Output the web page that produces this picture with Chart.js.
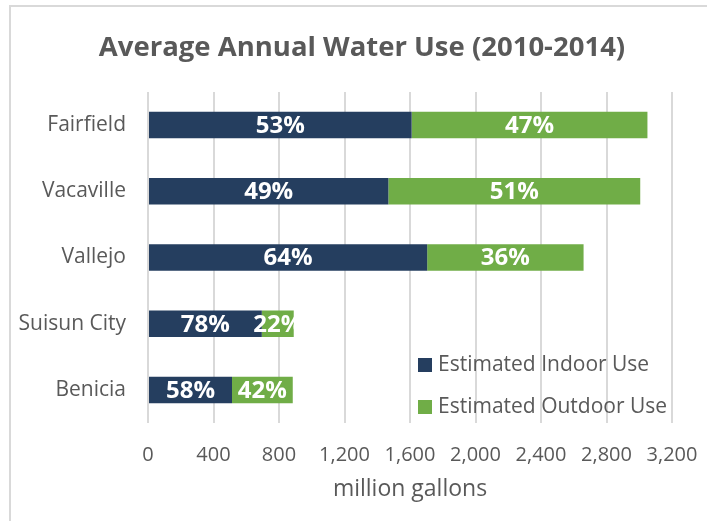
<!DOCTYPE html>
<html>
<head>
<meta charset="utf-8">
<script src="https://cdn.jsdelivr.net/npm/chart.js@4"></script>
<style>
  html, body { margin: 0; padding: 0; background: #fff; }
  #wrap { position: relative; width: 707px; height: 521px; }
</style>
</head>
<body>
<div id="wrap"><canvas id="waterChart"></canvas></div>
<script>
const cities = ['Fairfield', 'Vacaville', 'Vallejo', 'Suisun City', 'Benicia'];
const indoorUse = [1610, 1468, 1705, 695, 513];
const outdoorUse = [1440, 1538, 955, 195, 371];
const xTicks = [0, 400, 800, 1200, 1600, 2000, 2400, 2800, 3200];
const titleText = 'Average Annual Water Use (2010-2014)';

const navy = '#253E5F';
const green = '#70AD47';
const gray = '#595959';

// white percentage labels in the middle of each segment
const pctLabels = {
  id: 'pctLabels',
  afterDatasetsDraw(chart) {
    const ctx = chart.ctx;
    ctx.save();
    ctx.fillStyle = '#fff';
    ctx.font = 'bold 24px "Open Sans"';
    ctx.textAlign = 'center';
    ctx.textBaseline = 'middle';
    chart.data.datasets.forEach((ds, i) => {
      chart.getDatasetMeta(i).data.forEach((bar, j) => {
        const total = indoorUse[j] + outdoorUse[j];
        const pct = Math.round(ds.data[j] / total * 100) + '%';
        ctx.fillText(pct, (bar.x + bar.base) / 2, bar.y + 1);
      });
    });
    ctx.restore();
  }
};

// legend sitting inside the plot, lower right
const innerLegend = {
  id: 'innerLegend',
  afterDraw(chart) {
    const ctx = chart.ctx;
    ctx.save();
    ctx.font = '21px "Open Sans"';
    ctx.textBaseline = 'middle';
    const rows = [365, 407];
    chart.data.datasets.forEach((ds, i) => {
      ctx.fillStyle = ds.backgroundColor;
      ctx.fillRect(418, rows[i] - 7, 14, 14);
      ctx.fillStyle = gray;
      ctx.fillText(ds.label, 438, rows[i]);
    });
    ctx.restore();
  }
};

// frame and title
const frame = {
  id: 'frame',
  beforeDraw(chart) {
    const ctx = chart.ctx;
    ctx.save();
    ctx.strokeStyle = '#d9d9d9';
    ctx.lineWidth = 2;
    ctx.strokeRect(10, 6, 720, 540);
    ctx.fillStyle = gray;
    ctx.font = 'bold 27.5px "Open Sans"';
    ctx.textAlign = 'center';
    ctx.textBaseline = 'middle';
    ctx.fillText(titleText, 362, 48);
    ctx.restore();
  }
};

new Chart(document.getElementById('waterChart'), {
  type: 'bar',
  data: {
    labels: cities,
    datasets: [{
      label: 'Estimated Indoor Use',
      data: indoorUse,
      backgroundColor: navy,
      categoryPercentage: 1,
      barPercentage: 0.4
    }, {
      label: 'Estimated Outdoor Use',
      data: outdoorUse,
      backgroundColor: green,
      categoryPercentage: 1,
      barPercentage: 0.4
    }]
  },
  options: {
    indexAxis: 'y',
    responsive: true,
    maintainAspectRatio: false,
    animation: false,
    layout: { padding: { top: 92, left: 10, right: 35, bottom: 10 } },
    scales: {
      x: {
        stacked: true,
        min: 0,
        max: 3200,
        afterBuildTicks: axis => { axis.ticks = xTicks.map(v => ({ value: v })); },
        afterFit: axis => { axis.height = 88; axis.paddingLeft = 0; axis.paddingRight = 0; },
        grid: { color: '#d9d9d9', lineWidth: 2, drawTicks: false },
        border: { display: false },
        ticks: {
          padding: 20,
          color: gray,
          font: { family: 'Open Sans', size: 20 },
          maxRotation: 0,
          callback: v => v.toLocaleString('en-US')
        },
        title: {
          display: true,
          text: 'million gallons',
          color: gray,
          font: { family: 'Open Sans', size: 23 },
          padding: { top: 0, bottom: 8 }
        }
      },
      y: {
        stacked: true,
        afterFit: axis => { axis.width = 138; axis.paddingTop = 0; axis.paddingBottom = 0; },
        grid: { display: false, drawTicks: false },
        border: { display: false },
        ticks: {
          padding: 22,
          color: gray,
          font: { family: 'Open Sans', size: 21 }
        }
      }
    },
    plugins: {
      legend: { display: false },
      tooltip: { enabled: false },
      title: { display: false }
    }
  },
  plugins: [frame, pctLabels, innerLegend]
});
</script>
</body>
</html>
